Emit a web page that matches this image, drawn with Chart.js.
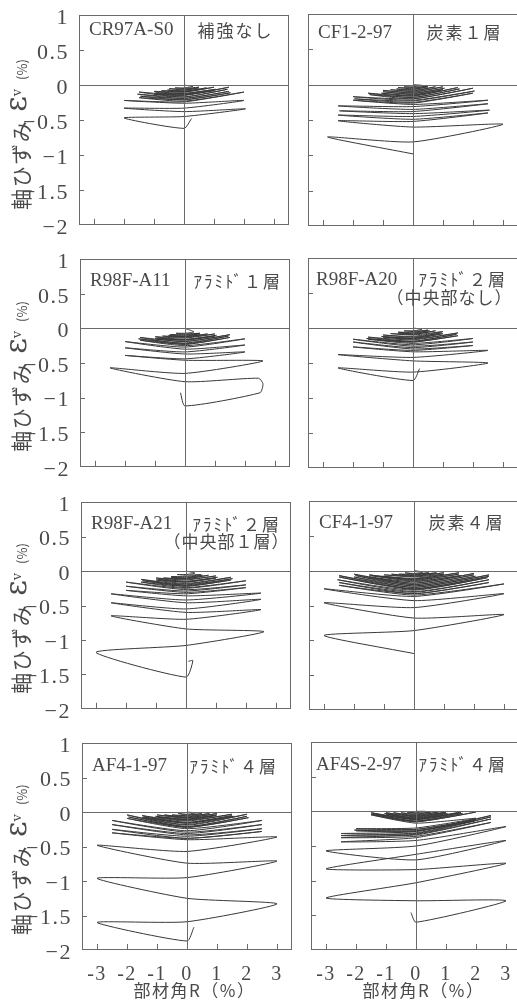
<!DOCTYPE html>
<html>
<head>
<meta charset="utf-8">
<script src="https://cdn.jsdelivr.net/npm/chart.js"></script>
<style>
  html, body { margin: 0; padding: 0; background: #fff; overflow: hidden; }
  body { width: 517px; height: 1003px; position: relative; }
  canvas { position: absolute; }
</style>
</head>
<body>
<script>
// ---- data ----
const panelNames = ['CR97A-S0', 'CF1-2-97', 'R98F-A11', 'R98F-A20', 'R98F-A21', 'CF4-1-97', 'AF4-1-97', 'AF4S-2-97'];
const panelNotes = [
  ['補強なし'], ['炭素１層'], ['ｱﾗﾐﾄﾞ１層'], ['ｱﾗﾐﾄﾞ２層', '（中央部なし）'],
  ['ｱﾗﾐﾄﾞ２層', '（中央部１層）'], ['炭素４層'], ['ｱﾗﾐﾄﾞ４層'], ['ｱﾗﾐﾄﾞ４層']
];
const xTicks = [-3, -2, -1, 0, 1, 2, 3];
const xTickLabels = ['-3', '-2', '-1', '0', '1', '2', '3'];
const yTicks = [1, 0.5, 0, -0.5, -1, -1.5, -2];
const yTickLabels = ['1', '0.5', '0', '−0.5', '−1', '−1.5', '−2'];
const xTitle = '部材角R（%）';
const yTitleText = ['軸ひずみ', 'ε', 'v', '(%)'];

// one row per cycle: [R right tip, eps at right tip, eps back at R=0, R left tip, eps at left tip, eps back at R=0]
const cyclesCR97A = [
  [0.3, -0.02, -0.04, 0.3, -0.04, -0.05], [0.5, -0.03, -0.06, 0.5, -0.05, -0.07],
  [0.5, -0.04, -0.08, 0.55, -0.07, -0.09], [0.75, -0.04, -0.09, 0.75, -0.08, -0.10],
  [1.0, -0.03, -0.10, 1.0, -0.09, -0.12], [1.05, -0.06, -0.12, 0.95, -0.11, -0.13],
  [1.0, -0.08, -0.14, 1.0, -0.13, -0.15], [1.5, -0.03, -0.14, 1.5, -0.10, -0.17],
  [1.45, -0.06, -0.17, 1.55, -0.13, -0.19], [1.5, -0.09, -0.19, 1.45, -0.16, -0.21],
  [1.55, -0.11, -0.21, 1.5, -0.18, -0.23], [2.0, -0.10, -0.24, 2.0, -0.22, -0.26],
  [2.0, -0.22, -0.33, 2.0, -0.33, -0.38], [2.05, -0.34, -0.45, 2.0, -0.47, -0.62]
];
const tailCR97A = [[0.25, -0.48]];

const cyclesCF12 = [
  [0.3, -0.01, -0.03, 0.3, -0.03, -0.04], [0.5, -0.02, -0.05, 0.5, -0.04, -0.06],
  [0.5, -0.03, -0.07, 0.55, -0.06, -0.08], [0.75, -0.03, -0.09, 0.75, -0.07, -0.10],
  [1.0, -0.03, -0.11, 1.0, -0.08, -0.12], [1.05, -0.05, -0.13, 1.0, -0.10, -0.14],
  [1.0, -0.07, -0.15, 1.05, -0.12, -0.16], [1.5, -0.04, -0.16, 1.5, -0.12, -0.18],
  [1.55, -0.06, -0.18, 1.45, -0.14, -0.20], [2.0, -0.05, -0.20, 2.0, -0.17, -0.22],
  [2.05, -0.09, -0.23, 1.95, -0.20, -0.25], [2.0, -0.12, -0.26, 2.0, -0.22, -0.28],
  [2.5, -0.22, -0.31, 2.5, -0.30, -0.35], [2.5, -0.27, -0.38, 2.45, -0.37, -0.41],
  [2.55, -0.36, -0.45, 2.5, -0.43, -0.49], [2.5, -0.40, -0.52, 2.5, -0.51, -0.60],
  [3.0, -0.56, -0.81, 2.85, -0.74, -0.98]
];
const tailCF12 = [];

const cyclesA11 = [
  [0.3, -0.05, -0.07, 0.3, -0.07, -0.08], [0.5, -0.07, -0.09, 0.5, -0.09, -0.10],
  [0.5, -0.08, -0.11, 0.55, -0.10, -0.12], [0.75, -0.08, -0.12, 0.75, -0.11, -0.13],
  [1.0, -0.08, -0.14, 1.0, -0.12, -0.16], [1.05, -0.10, -0.16, 0.95, -0.14, -0.17],
  [1.0, -0.11, -0.17, 1.0, -0.15, -0.19], [1.5, -0.09, -0.19, 1.5, -0.13, -0.22],
  [1.45, -0.11, -0.21, 1.55, -0.15, -0.23], [1.5, -0.13, -0.23, 1.5, -0.17, -0.25],
  [2.0, -0.15, -0.27, 2.0, -0.19, -0.30], [2.0, -0.24, -0.34, 2.0, -0.28, -0.37],
  [2.0, -0.34, -0.44, 2.0, -0.39, -0.46], [2.6, -0.47, -0.65, 2.5, -0.57, -0.77]
];
const tailA11 = [[2.45, -0.72], [2.6, -0.80], [2.5, -0.93], [0, -1.12], [-0.15, -0.93]];

const cyclesA20 = [
  [0.3, -0.02, -0.04, 0.3, -0.04, -0.05], [0.5, -0.03, -0.06, 0.5, -0.06, -0.07],
  [0.55, -0.04, -0.08, 0.5, -0.07, -0.09], [0.75, -0.04, -0.09, 0.75, -0.08, -0.10],
  [1.0, -0.05, -0.12, 1.0, -0.10, -0.13], [0.95, -0.07, -0.14, 1.05, -0.12, -0.15],
  [1.0, -0.08, -0.15, 1.0, -0.13, -0.16], [1.5, -0.07, -0.17, 1.5, -0.13, -0.19],
  [1.45, -0.09, -0.19, 1.55, -0.15, -0.20], [1.5, -0.11, -0.20, 1.5, -0.16, -0.22],
  [2.0, -0.15, -0.24, 2.0, -0.16, -0.26], [2.0, -0.20, -0.28, 2.0, -0.20, -0.30],
  [2.0, -0.25, -0.32, 2.0, -0.27, -0.34], [2.5, -0.32, -0.42, 2.5, -0.38, -0.47],
  [2.5, -0.50, -0.63, 2.5, -0.57, -0.75]
];
const tailA20 = [[0.22, -0.58]];

const cyclesA21 = [
  [0.3, -0.03, -0.05, 0.3, -0.05, -0.06], [0.5, -0.05, -0.08, 0.5, -0.08, -0.09],
  [0.55, -0.06, -0.10, 0.5, -0.09, -0.11], [0.75, -0.06, -0.11, 0.75, -0.10, -0.12],
  [1.0, -0.07, -0.13, 1.0, -0.10, -0.15], [1.05, -0.09, -0.15, 0.95, -0.12, -0.16],
  [1.0, -0.10, -0.16, 1.0, -0.13, -0.18], [1.5, -0.09, -0.19, 1.5, -0.12, -0.21],
  [1.55, -0.11, -0.20, 1.45, -0.14, -0.22], [1.5, -0.13, -0.22, 1.5, -0.16, -0.24],
  [2.0, -0.14, -0.25, 2.0, -0.16, -0.27], [2.0, -0.20, -0.29, 2.0, -0.22, -0.31],
  [2.0, -0.24, -0.33, 2.0, -0.28, -0.36], [2.5, -0.32, -0.42, 2.5, -0.33, -0.46],
  [2.5, -0.41, -0.55, 2.5, -0.46, -0.60], [2.5, -0.56, -0.70, 2.5, -0.65, -0.84],
  [2.6, -0.88, -1.08, 3.0, -1.18, -1.54]
];
const tailA21 = [[0.23, -1.30], [0.08, -1.31]];

const cyclesCF41 = [
  [0.3, -0.02, -0.04, 0.3, -0.03, -0.05], [0.5, -0.03, -0.05, 0.5, -0.05, -0.06],
  [0.75, -0.03, -0.07, 0.75, -0.05, -0.08], [1.0, -0.03, -0.08, 1.0, -0.06, -0.09],
  [1.0, -0.05, -0.11, 1.05, -0.08, -0.12], [1.5, -0.03, -0.12, 1.5, -0.06, -0.13],
  [1.5, -0.05, -0.14, 1.45, -0.07, -0.15], [1.55, -0.07, -0.16, 1.5, -0.09, -0.18],
  [2.0, -0.04, -0.18, 2.0, -0.05, -0.20], [2.0, -0.06, -0.20, 1.95, -0.07, -0.22],
  [2.05, -0.08, -0.22, 2.0, -0.09, -0.24], [2.5, -0.06, -0.24, 2.5, -0.07, -0.26],
  [2.5, -0.08, -0.26, 2.5, -0.09, -0.27], [2.45, -0.10, -0.28, 2.55, -0.13, -0.30],
  [2.5, -0.13, -0.31, 2.5, -0.17, -0.33], [2.5, -0.17, -0.33, 2.5, -0.21, -0.35],
  [3.0, -0.19, -0.37, 3.0, -0.26, -0.43], [3.0, -0.33, -0.53, 3.0, -0.46, -0.68],
  [3.0, -0.63, -0.86, 3.0, -0.93, -1.19]
];
const tailCF41 = [];

const cyclesAF41 = [
  [0.3, -0.01, -0.03, 0.3, -0.02, -0.04], [0.5, -0.02, -0.05, 0.5, -0.04, -0.06],
  [0.75, -0.02, -0.07, 0.75, -0.04, -0.08], [1.0, -0.02, -0.08, 1.0, -0.04, -0.09],
  [1.0, -0.04, -0.10, 1.05, -0.06, -0.11], [0.95, -0.05, -0.11, 1.0, -0.07, -0.12],
  [1.5, -0.03, -0.13, 1.5, -0.05, -0.15], [1.5, -0.05, -0.15, 1.45, -0.07, -0.16],
  [1.55, -0.06, -0.16, 1.5, -0.08, -0.18], [2.0, -0.03, -0.19, 2.0, -0.04, -0.21],
  [2.0, -0.06, -0.21, 1.95, -0.07, -0.22], [2.05, -0.08, -0.22, 2.0, -0.09, -0.24],
  [2.5, -0.12, -0.27, 2.5, -0.12, -0.29], [2.5, -0.18, -0.31, 2.5, -0.18, -0.33],
  [2.5, -0.24, -0.35, 2.5, -0.25, -0.38], [2.5, -0.28, -0.38, 2.5, -0.30, -0.40],
  [3.0, -0.36, -0.57, 3.0, -0.48, -0.74], [3.0, -0.71, -0.95, 3.0, -0.96, -1.25],
  [3.0, -1.33, -1.59, 3.0, -1.60, -1.87]
];
const tailAF41 = [[0.23, -1.67]];

const cyclesAF4S = [
  [0.3, 0.0, -0.02, 0.3, -0.01, -0.03], [0.5, -0.01, -0.04, 0.5, -0.02, -0.05],
  [0.75, -0.01, -0.06, 0.75, -0.02, -0.07], [1.0, -0.01, -0.07, 1.0, -0.02, -0.08],
  [1.0, -0.02, -0.09, 1.05, -0.03, -0.10], [1.05, -0.03, -0.10, 1.0, -0.04, -0.11],
  [1.5, -0.01, -0.11, 1.5, -0.02, -0.12], [1.5, -0.02, -0.12, 1.45, -0.03, -0.14],
  [1.55, -0.03, -0.14, 1.5, -0.04, -0.15], [2.0, -0.01, -0.15, 1.5, -0.05, -0.17],
  [2.0, -0.10, -0.24, 2.0, -0.25, -0.26], [2.0, -0.12, -0.26, 2.05, -0.27, -0.28],
  [1.95, -0.14, -0.28, 2.0, -0.28, -0.29], [2.5, -0.06, -0.29, 2.5, -0.32, -0.32],
  [2.5, -0.08, -0.31, 2.5, -0.35, -0.34], [2.5, -0.11, -0.33, 2.5, -0.38, -0.36],
  [2.5, -0.16, -0.38, 2.5, -0.44, -0.42], [3.0, -0.22, -0.50, 3.0, -0.57, -0.70],
  [3.0, -0.42, -0.62, 3.0, -0.83, -0.84], [3.0, -0.75, -1.03, 3.0, -1.25, -1.29]
];
const tailAF4S = [[3.0, -1.29], [0, -1.60], [-0.17, -1.46]];

const panelCycles = [cyclesCR97A, cyclesCF12, cyclesA11, cyclesA20, cyclesA21, cyclesCF41, cyclesAF41, cyclesAF4S];
const panelTails = [tailCR97A, tailCF12, tailA11, tailA20, tailA21, tailCF41, tailAF41, tailAF4S];

// ---- layout and style ----
const rowTop = [14, 258, 501, 742];
const rowH = [212, 210, 209, 208];
const leftPlotX = [79, 80, 81, 82];
const rightPlotX = [308, 308, 309, 311];
const plotW = 210;
const textColor = '#4a4a4a';
const lineColor = '#383838';
const frameColor = '#6a6a6a';
// per panel: name dx, text row dy, note dx, 2nd note line dx (from x=0 line)
const labelPos = [
  [10, 15, 13, 0], [10, 19, 13, 0], [10, 22, 8, 0], [8, 22, 5, -27],
  [10, 22, 6, -23], [10, 22, 14, 0], [10, 23, 2, 0], [5, 23, 2, 0]
];
const yTitleStyle = [
  { font: '21px "Noto Sans CJK JP"', gap: 0, dv: 0, ls: '1.5px' },
  { font: '30px "DejaVu Serif"', gap: 8, dv: -3, ls: '0px' },
  { font: '13px "DejaVu Serif"', gap: 0, dv: -3, ls: '0px' },
  { font: '13px "Noto Sans CJK JP"', gap: 9, dv: 1, ls: '0px' }
];

function buildPath(cycles, tail) {
  const pts = [{ x: 0, y: 0 }];
  cycles.forEach(([aR, eR, eM, aL, eL, eE]) => {
    pts.push({ x: aR, y: eR }, { x: 0, y: eM }, { x: -aL, y: eL }, { x: 0, y: eE });
  });
  tail.forEach(([x, y]) => pts.push({ x, y }));
  return pts;
}

function setSpacing(ctx, v) {
  if ('letterSpacing' in ctx) ctx.letterSpacing = v;
}

const spacingPlugin = {
  id: 'spacing',
  beforeDraw(chart) { setSpacing(chart.ctx, '1.5px'); }
};

const framePlugin = {
  id: 'frame',
  afterDraw(chart, args, o) {
    const { ctx, chartArea: a } = chart;
    const x = chart.scales.x, y = chart.scales.y;
    ctx.save();
    ctx.strokeStyle = frameColor;
    ctx.lineWidth = 1;
    ctx.strokeRect(Math.round(a.left) + 0.5, Math.round(a.top) + 0.5, Math.round(a.width) - 1, Math.round(a.height) - 1);
    const x0 = Math.round(x.getPixelForValue(0)) + 0.5;
    const y0 = Math.round(y.getPixelForValue(0)) + 0.5;
    ctx.beginPath();
    ctx.moveTo(x0, a.top); ctx.lineTo(x0, a.bottom);
    ctx.moveTo(a.left, y0); ctx.lineTo(a.right, y0);
    yTicks.forEach(v => {
      if (v === 0 || v === 1 || v === -2) return;
      const py = Math.round(y.getPixelForValue(v)) + 0.5;
      ctx.moveTo(a.left, py); ctx.lineTo(a.left + 5, py);
    });
    xTicks.forEach(v => {
      if (v === 0) return;
      const px = Math.round(x.getPixelForValue(v)) + 0.5;
      ctx.moveTo(px, a.bottom); ctx.lineTo(px, a.bottom - 6);
    });
    ctx.stroke();

    const [nameDx, rowDy, noteDx, note2Dx] = labelPos[o.index];
    ctx.fillStyle = textColor;
    ctx.textBaseline = 'middle';
    ctx.textAlign = 'left';
    ctx.font = '19px "Liberation Serif"';
    setSpacing(ctx, '0px');
    ctx.fillText(panelNames[o.index], a.left + nameDx, a.top + rowDy);
    ctx.font = '17px "Noto Sans CJK JP"';
    setSpacing(ctx, '2px');
    const notes = panelNotes[o.index];
    ctx.fillText(notes[0], x0 + noteDx, a.top + rowDy);
    if (notes[1]) {
      setSpacing(ctx, '1px');
      ctx.fillText(notes[1], x0 + note2Dx, a.top + rowDy + 17.5);
    }
    if (o.xTitle) {
      ctx.font = '17px "Noto Sans CJK JP"';
      setSpacing(ctx, '1.5px');
      ctx.textAlign = 'center';
      ctx.fillText(xTitle, x0 + 7, chart.height - 12);
    }
    setSpacing(ctx, '0px');
    ctx.restore();
  }
};

const yTitlePlugin = {
  id: 'yTitle',
  afterDraw(chart, args, o) {
    if (!o.show) return;
    const { ctx, chartArea: a } = chart;
    ctx.save();
    ctx.translate(21, a.bottom - 15);
    ctx.rotate(-Math.PI / 2);
    ctx.fillStyle = textColor;
    ctx.textBaseline = 'middle';
    ctx.textAlign = 'left';
    let u = 0;
    yTitleText.forEach((t, i) => {
      const s = yTitleStyle[i];
      ctx.font = s.font;
      setSpacing(ctx, s.ls);
      u += s.gap;
      ctx.fillText(t, u, s.dv);
      u += ctx.measureText(t).width;
    });
    setSpacing(ctx, '0px');
    ctx.restore();
  }
};

for (let i = 0; i < 8; i++) {
  const row = Math.floor(i / 2), col = i % 2;
  const plotLeft = col === 0 ? leftPlotX[row] : rightPlotX[row];
  const plotTop = rowTop[row], plotBottom = rowTop[row] + rowH[row];
  const cLeft = col === 0 ? 0 : plotLeft - 4;
  const cTop = plotTop - 14;
  const cBottom = row === 3 ? 1003 : plotBottom + 14;
  const cWidth = plotLeft - cLeft + plotW + 2;
  const cHeight = cBottom - cTop;
  const bottomRow = row === 3;
  const leftCol = col === 0;

  const cv = document.createElement('canvas');
  cv.width = cWidth; cv.height = cHeight;
  cv.style.left = cLeft + 'px'; cv.style.top = cTop + 'px';
  cv.style.width = cWidth + 'px'; cv.style.height = cHeight + 'px';
  document.body.appendChild(cv);

  new Chart(cv, {
    type: 'line',
    data: {
      datasets: [{
        data: buildPath(panelCycles[i], panelTails[i]),
        borderColor: lineColor,
        borderWidth: 1,
        pointRadius: 0,
        tension: 0.2,
        fill: false
      }]
    },
    options: {
      responsive: false,
      animation: false,
      devicePixelRatio: 1,
      events: [],
      layout: {
        padding: {
          left: leftCol ? 0 : plotLeft - cLeft,
          right: 2,
          top: 14,
          bottom: bottomRow ? 0 : 14
        }
      },
      plugins: {
        legend: { display: false },
        tooltip: { enabled: false },
        frame: { index: i, xTitle: bottomRow },
        yTitle: { show: leftCol }
      },
      scales: {
        x: {
          type: 'linear', min: -3.5, max: 3.5,
          display: bottomRow,
          afterBuildTicks: s => { s.ticks = xTicks.map(v => ({ value: v })); },
          afterFit: s => { if (bottomRow) s.height = cBottom - plotBottom; },
          grid: { display: false },
          border: { display: false },
          ticks: {
            autoSkip: false, maxRotation: 0, padding: 5, color: textColor,
            font: { family: 'Liberation Serif', size: 20 },
            callback: (v, k) => xTickLabels[k]
          }
        },
        y: {
          type: 'linear', min: -2, max: 1,
          display: leftCol,
          afterBuildTicks: s => { s.ticks = yTicks.map(v => ({ value: v })); },
          afterFit: s => { if (leftCol) s.width = plotLeft; },
          grid: { display: false },
          border: { display: false },
          ticks: {
            autoSkip: false, padding: 2, labelOffset: 3, color: textColor,
            font: { family: 'Liberation Serif', size: 22 },
            callback: (v, k) => yTickLabels[k]
          }
        }
      }
    },
    plugins: [spacingPlugin, framePlugin, yTitlePlugin]
  });
}
</script>
</body>
</html>
